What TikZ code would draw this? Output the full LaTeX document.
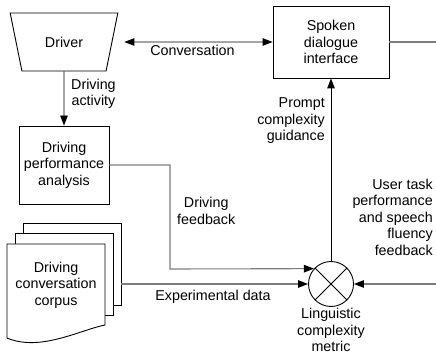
\documentclass[tikz,border=0pt]{standalone}
\usepackage{fontspec}
\setmainfont{Liberation Sans}
\usetikzlibrary{positioning}
\usetikzlibrary{arrows.meta}
\usetikzlibrary{shapes.geometric}
\definecolor{gris}{RGB}{125,125,125}
\tikzset{
 caja/.style={
 rectangle,
 draw=black, line width=0.9pt,
 align=center,
 inner sep=0pt},
 persona/.style={
 trapezium,
 shape border rotate=180,
 trapezium angle=70,
 trapezium stretches=true,
 draw=black, line width=0.9pt,
 minimum width=108pt,
 minimum height=58pt},
 hoja/.style={
 rectangle,
 draw=black, line width=0.9pt,
 fill=white,
 minimum width=98pt,
 minimum height=82pt,
 inner sep=0pt},
 mezcla/.style={
 circle,
 draw=black, line width=0.9pt,
 minimum size=45pt,
 inner sep=0pt},
 etiqueta/.style={
 align=center,
 inner sep=1pt},
 flecha/.style={
 draw=black, line width=0.9pt,
 -{Triangle[length=10pt,width=7.5pt]}},
 retro/.style={
 draw=gris, line width=1.1pt,
 -{Triangle[length=10pt,width=7.5pt,color=black]}},
 linea/.style={
 draw=gris, line width=1.1pt}
}

\begin{document}
\begin{tikzpicture}[x=1pt, y=-1pt, font=\fontsize{14.3}{16.5}\selectfont]
 \useasboundingbox (0,0) rectangle (436,355);

 \node[persona] (conductor) at (64,42) {Driver};
 \node[caja, minimum width=116pt, minimum height=72pt] (interfaz) at (331,42) {Spoken\\dialogue\\interface};
 \node[caja, minimum width=90pt, minimum height=78pt] (analisis) at (64,165) {Driving\\performance\\analysis};
 \node[mezcla] (metrica) at (331,284) {};

 % pila de hojas del corpus
 \node[hoja] (hoja3) at (72,264) {};
 \node[hoja] (hoja2) at (64,274) {};
 \draw[line width=0.9pt, fill=white] (7,244) -- (105,244) -- (105,325)
 .. controls (80,330) and (40,352) .. (7,338) -- cycle;
 \node[etiqueta] (corpus) at (56,285) {Driving\\conversation\\corpus};

 \draw[line width=0.9pt] (metrica.45) -- (metrica.225) (metrica.135) -- (metrica.315);

 \coordinate (salida) at (436,42);
 \coordinate (entrada) at (436,284);
 \coordinate (giro) at (170,269);

 \node[etiqueta, anchor=west] (actividad) at (70,94) {Driving\\activity};
 \node[etiqueta, anchor=west] (retroconduc) at (176,211) {Driving\\feedback};
 \node[etiqueta] (datos) at (213,297) {Experimental data};
 \node[etiqueta, anchor=east, align=right] (guia) at (326,121) {Prompt\\complexity\\guidance};
 \node[etiqueta, anchor=east, align=right] (usuario) at (434,217) {User task\\performance\\and speech\\fluency\\feedback};
 \node[etiqueta, below=0pt of metrica] (metricatxt) {Linguistic\\complexity\\metric};

 \draw[flecha, {Triangle[length=10pt,width=7.5pt]}-{Triangle[length=10pt,width=7.5pt]}, shorten <=12pt]
 (conductor) -- node[etiqueta, below=2pt] (conversa) {Conversation} (interfaz);
 \draw[flecha] (conductor) -- (analisis);
 \draw[flecha] (metrica) -- (interfaz);
 \draw[linea] (interfaz) -- (salida);
 \draw[retro] (analisis.east) -| (giro) -- (metrica.138);
 \draw[retro] (hoja3.east |- metrica.west) -- (metrica.west);
 \draw[retro] (entrada) -- (metrica.east);
\end{tikzpicture}
\end{document}
